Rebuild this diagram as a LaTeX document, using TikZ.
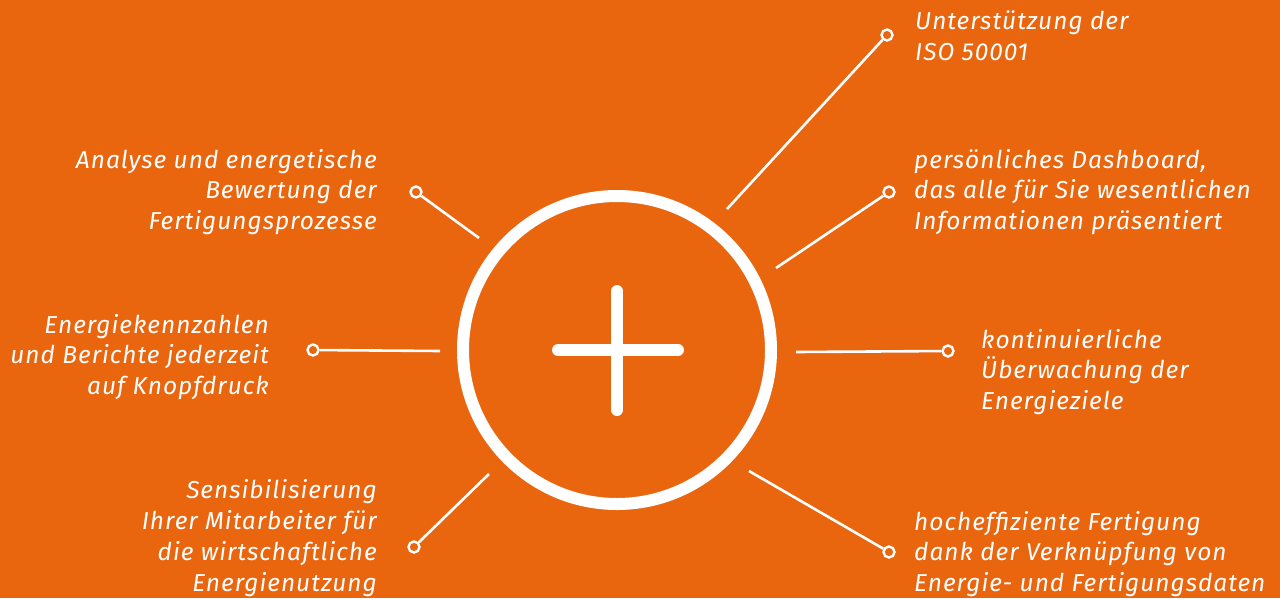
\documentclass[tikz,border=0pt]{standalone}
\usepackage{fontspec}
\setmainfont{Fira Sans}[LetterSpace=4]
\definecolor{bg}{HTML}{E9650E}
\begin{document}
\begin{tikzpicture}[x=1pt,y=-1pt,
  lbl/.style={text=white, font=\itshape\fontsize{24.5}{30.8}\selectfont, inner sep=0pt},
  lft/.style={lbl, align=right, anchor=east},
  rgt/.style={lbl, align=left, anchor=west},
  conn/.style={draw=white, line width=2.6pt},
  dot/.style={circle, draw=white, fill=bg, line width=2.4pt, minimum size=11pt, inner sep=0pt}]
\fill[bg] (0,0) rectangle (1280,598);
\useasboundingbox (0,0) rectangle (1280,598);
% central circle and plus
\draw[white, line width=12pt] (617,350) circle[radius=154];
\node[inner sep=0pt, minimum size=0pt] (c) at (617,350) {};
\coordinate (ph1) at (558,350); \coordinate (ph2) at (678,350);
\coordinate (pv1) at (617,291); \coordinate (pv2) at (617,410);
\draw[white, line width=12pt, line cap=round] (ph1) -- (ph2);
\draw[white, line width=12pt, line cap=round] (pv1) -- (pv2);
% connector inner ends
\coordinate (e1) at (479,238);
\coordinate (e2) at (440,351);
\coordinate (e3) at (489,474);
\coordinate (e4) at (727,209);
\coordinate (e5) at (776,268);
\coordinate (e6) at (796,352);
\coordinate (e7) at (749,471);
% end dots
\node[dot] (d1) at (416,192) {};
\node[dot] (d2) at (313,350) {};
\node[dot] (d3) at (414,547) {};
\node[dot] (d4) at (887,35) {};
\node[dot] (d5) at (889,192) {};
\node[dot] (d6) at (948,351) {};
\node[dot] (d7) at (889,552) {};
\draw[conn] (d1) -- (e1);
\draw[conn] (d2) -- (e2);
\draw[conn] (d3) -- (e3);
\draw[conn] (d4) -- (e4);
\draw[conn] (d5) -- (e5);
\draw[conn] (d6) -- (e6);
\draw[conn] (d7) -- (e7);
% labels
\node[rgt] (t4) at (915,36) {Unterstützung der\\ISO 50001};
\node[lft] (t1) at (377,192) {Analyse und energetische\\Bewertung der\\Fertigungsprozesse};
\node[rgt] (t5) at (914,192) {persönliches Dashboard,\\das alle für Sie wesentlichen\\Informationen präsentiert};
\node[lft] (t2) at (269,357) {Energiekennzahlen\\und Berichte jederzeit\\auf Knopfdruck};
\node[rgt] (t6) at (981,372) {kontinuierliche\\Überwachung der\\Energieziele};
\node[lft] (t3) at (377,538) {Sensibilisierung\\Ihrer Mitarbeiter für\\die wirtschaftliche\\Energienutzung};
\node[rgt] (t7) at (914,554) {hocheffiziente Fertigung\\dank der Verknüpfung von\\Energie- und Fertigungsdaten};
\end{tikzpicture}
\end{document}
